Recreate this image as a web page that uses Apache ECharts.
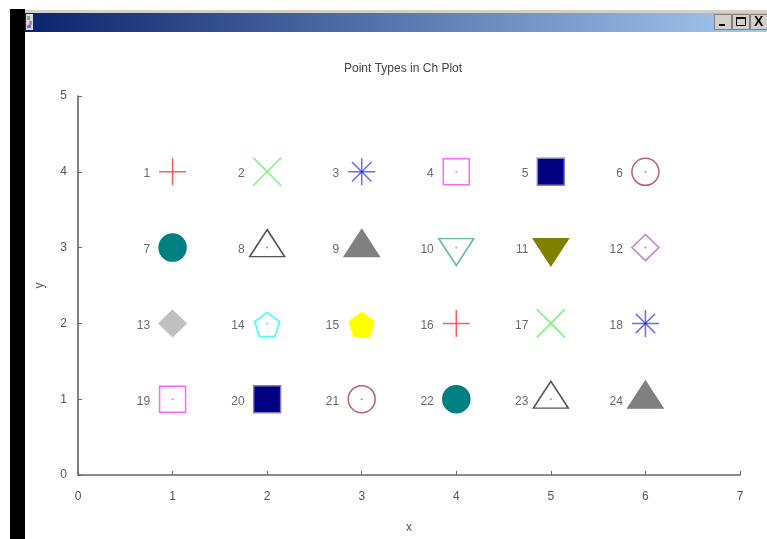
<!DOCTYPE html>
<html><head><meta charset="utf-8">
<script src="https://cdn.jsdelivr.net/npm/echarts@6/dist/echarts.min.js"></script>
<style>html,body{margin:0;padding:0;background:#fff}#c{width:767px;height:539px}</style>
</head><body><div id="c"></div>
<script>
// ---- data ----
const chartTitle = 'Point Types in Ch Plot';
const pointIds = [1,2,3,4,5,6, 7,8,9,10,11,12, 13,14,15,16,17,18, 19,20,21,22,23,24];
const xValues  = [1,2,3,4,5,6, 1,2,3,4,5,6, 1,2,3,4,5,6, 1,2,3,4,5,6];
const yValues  = [4,4,4,4,4,4, 3,3,3,3,3,3, 2,2,2,2,2,2, 1,1,1,1,1,1];
const xTickLabels = ['0','1','2','3','4','5','6','7'];
const yTickLabels = ['0','1','2','3','4','5'];
const xAxisName = 'x';
const yAxisName = 'y';

// ---- marker styles (point type 1..15, then 16.. repeat) ----
const P_PLUS = 'path://M0,50L100,50M50,0L50,100';
const P_CROSS = 'path://M0,0L100,100M100,0L0,100';
const P_STAR = 'path://M0,50L100,50M50,0L50,100M14,14L86,86M86,14L14,86';
const P_PENT = 'path://M50,0L97.55,34.55L79.39,90.45L20.61,90.45L2.45,34.55Z';
const P_DOWN = 'path://M0,0L100,0L50,100Z';
const T = 'rgba(0,0,0,0)';
const markerStyles = [
  {symbol:P_PLUS,  size:[27,27], fill:T, stroke:'#ff5a5a', dot:null},
  {symbol:P_CROSS, size:[28,28], fill:T, stroke:'#80f080', dot:null},
  {symbol:P_STAR,  size:[27,27], fill:T, stroke:'#6a6aff', dot:'#0000a0'},
  {symbol:'rect',  size:[26,26], fill:T, stroke:'#ff66ff', dot:'#ff66ff'},
  {symbol:'rect',  size:[27,27], fill:'#000080', stroke:'#8080c0', dot:null},
  {symbol:'circle',size:[27,27], fill:T, stroke:'#b86464', dot:'#c08080'},
  {symbol:'circle',size:[27,27], fill:'#008080', stroke:'#008080', dot:null},
  {symbol:'triangle',size:[35,27], fill:T, stroke:'#555555', dot:'#999999', off:[0,-4.5]},
  {symbol:'triangle',size:[35,27], fill:'#808080', stroke:'#808080', dot:null, off:[0,-4.5]},
  {symbol:P_DOWN,  size:[35,27], fill:T, stroke:'#66bb99', dot:'#88ccaa', off:[0,4.5]},
  {symbol:P_DOWN,  size:[35,27], fill:'#808000', stroke:'#808000', dot:null, off:[0,4.5]},
  {symbol:'diamond',size:[27,26], fill:T, stroke:'#c080d0', dot:'#c080d0'},
  {symbol:'diamond',size:[27,26], fill:'#c0c0c0', stroke:'#c0c0c0', dot:null},
  {symbol:P_PENT,  size:[25,24], fill:T, stroke:'#40ffff', dot:'#40e0e0', off:[0,1]},
  {symbol:P_PENT,  size:[25,24], fill:'#ffff00', stroke:'#ffff00', dot:null, off:[0,1]}
];
const styleOf = id => markerStyles[(id - 1) % markerStyles.length];

const markerData = pointIds.map((id, i) => {
  const s = styleOf(id);
  return {
    value: [xValues[i], yValues[i]],
    symbol: s.symbol,
    symbolSize: s.size,
    symbolOffset: s.off || [0, 0],
    itemStyle: {color: s.fill, borderColor: s.stroke, borderWidth: 1.5, opacity: 1}
  };
});
const dotData = [];
pointIds.forEach((id, i) => {
  const s = styleOf(id);
  if (s.dot) dotData.push({value: [xValues[i], yValues[i]], itemStyle: {color: s.dot, opacity: 1}});
});
const labelData = pointIds.map((id, i) => [xValues[i], yValues[i]]);

const FONT = '"Liberation Sans", Arial, sans-serif';
const chart = echarts.init(document.getElementById('c'), null, {renderer: 'canvas'});
chart.setOption({
  animation: false,
  backgroundColor: '#ffffff',
  title: {
    text: chartTitle, left: 344, top: 63, padding: 0,
    textStyle: {fontFamily: FONT, fontSize: 12, fontWeight: 'normal', color: '#444'}
  },
  grid: {left: 78, width: 662, top: 96, height: 384, containLabel: false},
  xAxis: {
    type: 'value', min: 0, max: 7, interval: 1,
    name: xAxisName, nameLocation: 'middle', nameGap: 47,
    nameTextStyle: {fontFamily: FONT, fontSize: 12, color: '#555'},
    axisLine: {show: true, onZero: false, lineStyle: {color: '#8c8c8c', width: 2}},
    axisTick: {show: true, inside: true, length: 4, lineStyle: {color: '#666'}},
    splitLine: {show: false},
    axisLabel: {margin: 16, fontFamily: FONT, fontSize: 12, color: '#555',
      formatter: v => xTickLabels[Math.round(v)]}
  },
  yAxis: {
    type: 'value', min: 0, max: 5, interval: 1,
    name: yAxisName, nameLocation: 'middle', nameGap: 32, nameRotate: 90,
    nameTextStyle: {fontFamily: FONT, fontSize: 12, color: '#555'},
    axisLine: {show: true, onZero: false, lineStyle: {color: '#555', width: 1.5}},
    axisTick: {show: true, inside: true, length: 4, lineStyle: {color: '#666'}},
    splitLine: {show: false},
    axisLabel: {margin: 11, fontFamily: FONT, fontSize: 12, color: '#555',
      padding: [4, 0, 0, 0],
      formatter: v => yTickLabels[Math.round(v)]}
  },
  series: [
    {type: 'scatter', data: markerData, z: 2, silent: true, itemStyle: {opacity: 1}},
    {type: 'scatter', data: dotData, symbol: 'circle', symbolSize: 2, z: 3, silent: true, itemStyle: {opacity: 1}},
    {type: 'scatter', data: labelData, symbolSize: 1, itemStyle: {color: T}, z: 4, silent: true,
      label: {show: true, position: 'left', distance: 22, offset: [0, 2],
        formatter: p => String(pointIds[p.dataIndex]),
        fontFamily: FONT, fontSize: 12, color: '#444'}}
  ],
  graphic: [
    {type: 'rect', shape: {x: 10, y: 9, width: 15, height: 530}, style: {fill: '#000'}, z: 100},
    {type: 'rect', shape: {x: 25, y: 10, width: 742, height: 3}, style: {fill: '#d4d0c8'}, z: 100},
    {type: 'rect', shape: {x: 25, y: 13, width: 742, height: 19},
      style: {fill: new echarts.graphic.LinearGradient(0, 0, 1, 0, [
        {offset: 0, color: '#0a246a'}, {offset: 1, color: '#a6caf0'}])}, z: 100},
    {type: 'rect', shape: {x: 26, y: 14, width: 7, height: 16}, style: {fill: '#d8d8e8'}, z: 101},
    {type: 'rect', shape: {x: 27, y: 16, width: 3, height: 4}, style: {fill: '#60c060'}, z: 102},
    {type: 'rect', shape: {x: 29, y: 21, width: 3, height: 4}, style: {fill: '#e070a0'}, z: 102},
    {type: 'rect', shape: {x: 27, y: 25, width: 4, height: 3}, style: {fill: '#7070e0'}, z: 102},
    {type: 'rect', shape: {x: 714.5, y: 14.5, width: 17, height: 15}, style: {fill: '#d4d0c8', stroke: '#808080', lineWidth: 1}, z: 101},
    {type: 'rect', shape: {x: 732.5, y: 14.5, width: 17, height: 15}, style: {fill: '#d4d0c8', stroke: '#808080', lineWidth: 1}, z: 101},
    {type: 'rect', shape: {x: 750.5, y: 14.5, width: 17, height: 15}, style: {fill: '#d4d0c8', stroke: '#808080', lineWidth: 1}, z: 101},
    {type: 'rect', shape: {x: 719, y: 24, width: 6, height: 2}, style: {fill: '#000'}, z: 102},
    {type: 'rect', shape: {x: 736.5, y: 17.5, width: 9, height: 8}, style: {fill: 'none', stroke: '#000', lineWidth: 1}, z: 102},
    {type: 'rect', shape: {x: 736, y: 17, width: 10, height: 2}, style: {fill: '#000'}, z: 102},
    {type: 'text', x: 754, y: 15, style: {text: 'X', fontFamily: FONT, fontSize: 14, fontWeight: 'bold', fill: '#000'}, z: 102}
  ]
});
</script>
</body></html>
